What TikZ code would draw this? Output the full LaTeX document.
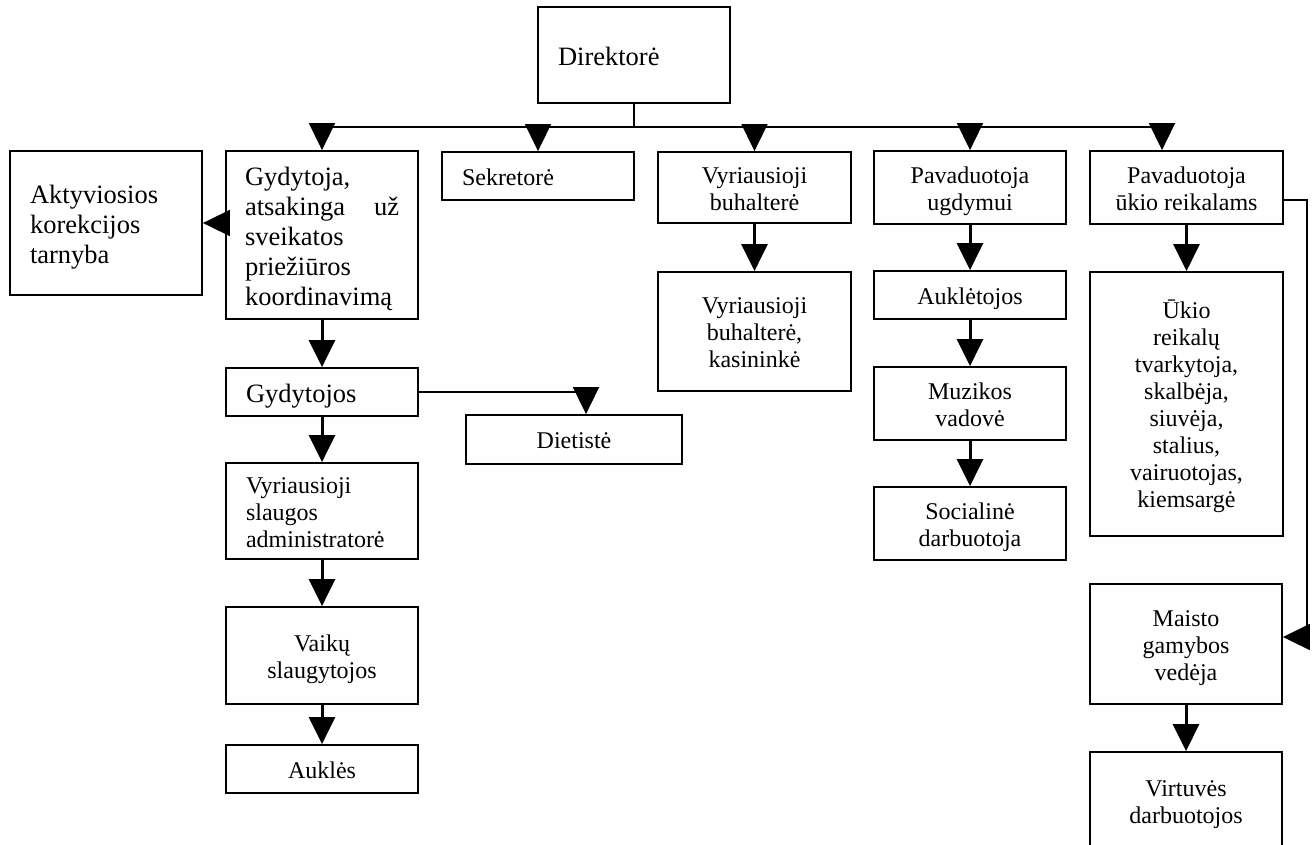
\documentclass[tikz,border=0pt]{standalone}
\usepackage{fontspec}
\setmainfont{Liberation Serif}
\usetikzlibrary{arrows.meta,calc}
\newcommand\topst{\rule{0pt}{1.04em}}
\newcommand\botst{\rule[-0.25em]{0pt}{0.25em}}
\begin{document}
\begin{tikzpicture}[x=1pt,y=-1pt,
  box/.style={draw, line width=1.8pt, inner sep=0pt, align=center, font=\fontsize{24}{27}\selectfont},
  big/.style={font=\fontsize{26.5}{30}\selectfont},
  lbox/.style={box, align=left, inner xsep=20pt, text width=#1},
  arr/.style={-{Triangle[width=26pt,length=27pt]}},
  bus/.style={line width=1.7pt},
  shaft/.style={line width=3pt},
  thinline/.style={line width=1.8pt}]
\useasboundingbox (0,0) rectangle (1316,845);
\clip (0,0) rectangle (1316,845);

% boxes
\node[lbox=152pt, big, minimum width=192pt, minimum height=96pt] (dir) at (634,55) {\topst Direktorė\botst};
\node[lbox=152pt, big, minimum width=192pt, minimum height=144pt] (akt) at (106,223) {\topst Aktyviosios\\korekcijos\\tarnyba\botst};
\node[box, big, align=left, inner xsep=19pt, text width=154pt, minimum width=192pt, minimum height=168pt] (gyd1) at (322,235) {\topst Gydytoja,\\atsakinga\hskip 0pt plus 1filll už\\sveikatos\\priežiūros\\koordinavimą\botst};
\node[lbox=152pt, minimum width=192pt, minimum height=48pt] (sek) at (538,176) {\topst Sekretorė\botst};
\node[box, minimum width=193pt, minimum height=71pt] (buh) at (754.5,187.5) {\topst Vyriausioji\\buhalterė\botst};
\node[box, minimum width=192pt, minimum height=73pt] (pu) at (970,187.5) {\topst Pavaduotoja\\ugdymui\botst};
\node[box, minimum width=193pt, minimum height=73pt] (puk) at (1186.5,187.5) {\topst Pavaduotoja\\ūkio reikalams\botst};
\node[box, minimum width=193pt, minimum height=119pt] (buh2) at (754.5,331.5) {\topst Vyriausioji\\buhalterė,\\kasininkė\botst};
\node[box, minimum width=192pt, minimum height=48pt] (auk) at (970,295) {\topst Auklėtojos\botst};
\node[box, minimum width=192pt, minimum height=73pt] (muz) at (970,403.5) {\topst Muzikos\\vadovė\botst};
\node[box, minimum width=192pt, minimum height=73pt] (soc) at (970,523.5) {\topst Socialinė\\darbuotoja\botst};
\node[box, minimum width=193pt, minimum height=264pt] (ukio) at (1186.5,404) {\topst Ūkio\\reikalų\\tvarkytoja,\\skalbėja,\\siuvėja,\\stalius,\\vairuotojas,\\kiemsargė\botst};
\node[box, minimum width=192pt, minimum height=120pt] (mai) at (1186,644) {\topst Maisto\\gamybos\\vedėja\botst};
\node[box, minimum width=192pt, minimum height=98pt] (virt) at (1186,801) {\topst Virtuvės\\darbuotojos\botst};
\node[lbox=152pt, big, minimum width=192pt, minimum height=48pt] (gyd2) at (322,392) {\topst Gydytojos\botst};
\node[box, minimum width=216pt, minimum height=49pt] (diet) at (574,439.5) {\topst Dietistė\botst};
\node[lbox=152pt, minimum width=192pt, minimum height=96pt] (slaug) at (322,511) {\topst Vyriausioji\\slaugos\\administratorė\botst};
\node[box, minimum width=192pt, minimum height=97pt] (vaik) at (322,655.5) {\topst Vaikų\\slaugytojos\botst};
\node[box, minimum width=192pt, minimum height=48pt] (aukles) at (322,769) {\topst Auklės\botst};

% bus from director
\coordinate (busL) at (322,127);
\coordinate (busR) at (1162,127);
\draw[bus] (dir.south) -- (dir.south |- busL);
\draw[bus] (busL) -- (busR);
\draw[bus, arr] (busL) -- (gyd1.north);
\draw[bus, arr] (sek.north |- busL) -- (sek.north);
\draw[bus, arr] (buh.north |- busL) -- (buh.north);
\draw[bus, arr] (pu.north |- busL) -- (pu.north);
\draw[bus, arr] (busR) -- (busR |- puk.north);

% side arrow to Aktyviosios
\draw[thinline, arr] (gyd1.west |- akt.east) -- (akt.east);

% vertical chains
\draw[shaft, arr] (gyd1.south) -- (gyd2.north);
\draw[shaft, arr] (gyd2.south) -- (slaug.north);
\draw[shaft, arr] (slaug.south) -- (vaik.north);
\draw[shaft, arr] (vaik.south) -- (aukles.north);
\draw[shaft, arr] (buh.south) -- (buh2.north);
\draw[shaft, arr] (pu.south) -- (auk.north);
\draw[shaft, arr] (auk.south) -- (muz.north);
\draw[shaft, arr] (muz.south) -- (soc.north);
\draw[shaft, arr] (puk.south) -- (ukio.north);
\draw[shaft, arr] (mai.south) -- (virt.north);

% Gydytojos to Dietiste
\draw[thinline, arr] (gyd2.east) -| ([xshift=12pt]diet.north);

% right connector to Maisto
\coordinate (rtop) at (1307,200);
\coordinate (rbot) at (1307,637);
\draw[thinline, arr] (puk.east |- rtop) -- (rtop) -- (rbot) -- (rbot -| mai.east);
\end{tikzpicture}
\end{document}
